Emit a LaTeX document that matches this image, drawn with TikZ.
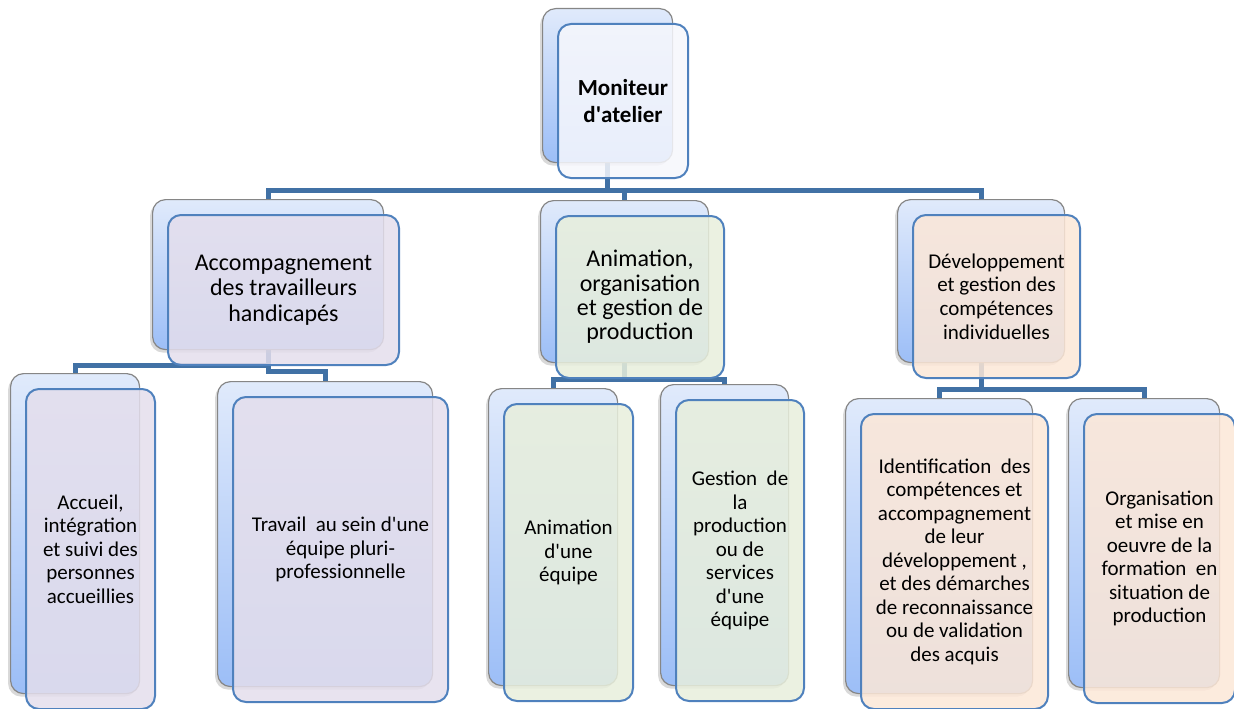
\documentclass[tikz,border=0pt]{standalone}
\usepackage{fontspec}
\setmainfont{Carlito}
\usetikzlibrary{shadows}
\pgfdeclarelayer{bg}
\pgfsetlayers{bg,main}
\definecolor{connc}{RGB}{65,113,165}
\definecolor{frontline}{RGB}{79,129,189}
\definecolor{backline}{RGB}{134,134,134}
\definecolor{backtop}{RGB}{224,234,251}
\definecolor{backbot}{RGB}{156,190,247}
\definecolor{rootfill}{RGB}{246,247,252}
\definecolor{afill}{RGB}{228,222,236}
\definecolor{bfill}{RGB}{232,239,220}
\definecolor{cfill}{RGB}{252,231,215}
\newcommand\qs{\textquotesingle}
\tikzset{
  backbox/.style={rectangle, rounded corners=13pt, draw=backline, line width=1.2pt,
    top color=backtop, bottom color=backbot, anchor=north west, inner sep=0pt,
    drop shadow={shadow xshift=-2.5pt, shadow yshift=-3pt, opacity=0.3}},
  frontbox/.style={rectangle, rounded corners=13pt, draw=frontline, line width=2pt,
    fill opacity=0.85, text opacity=1, draw opacity=1, anchor=north west,
    align=center, inner sep=0pt},
  connector/.style={draw=connc, line width=5pt, line join=miter},
  rootfont/.style={font=\bfseries\fontsize{23}{27}\selectfont},
  midfont/.style={font=\fontsize{24}{25.5}\selectfont},
  leaffont/.style={font=\fontsize{21}{23.5}\selectfont},
}
% name, x, y (front top-left), width, height, fill, font style, text
\newcommand\boxpair[8]{%
  \node[backbox, minimum width=#4pt, minimum height=#5pt] (#1b) at (#2-15,#3-15) {};
  \node[frontbox, fill=#6, minimum width=#4pt, minimum height=#5pt, #7] (#1) at (#2,#3) {#8};
}
\begin{document}
\begin{tikzpicture}[x=1pt, y=-1pt]
\useasboundingbox (0,0) rectangle (1234,709);
% level 1
\boxpair{root}{557}{23}{130}{154}{rootfill}{rootfont}{Moniteur\\d\qs atelier}
% level 2
\boxpair{A}{167}{214}{231}{150}{afill}{midfont}{Accompagnement\\des travailleurs\\handicapés}
\boxpair{B}{555}{215}{168}{162}{bfill}{font=\fontsize{24}{24.3}\selectfont}{Animation,\\organisation\\et gestion de\\production}
\boxpair{C}{912}{214}{167}{163}{cfill}{font=\fontsize{21}{23.7}\selectfont}{Développement\\et gestion des\\compétences\\individuelles}
% level 3
\boxpair{A1}{25}{388}{129}{320}{afill}{leaffont}{Accueil,\\intégration\\et suivi des\\personnes\\accueillies}
\boxpair{A2}{232}{396}{215}{305}{afill}{leaffont}{Travail\ \ au sein d\qs une\\équipe pluri-\\professionnelle}
\boxpair{B1}{503}{403}{129}{297}{bfill}{leaffont}{Animation\\d\qs une\\équipe}
\boxpair{B2}{675}{399}{128}{301}{bfill}{leaffont}{Gestion\ \ de\\la\\production\\ou de\\services\\d\qs une\\équipe}
\boxpair{C1}{860}{413}{187}{295}{cfill}{leaffont}{Identification\ \ des\\compétences et\\accompagnement\\de leur\\développement ,\\et des démarches\\de reconnaissance\\ou de validation\\des acquis}
\boxpair{C2}{1083}{413}{151}{289}{cfill}{leaffont}{Organisation\\et mise en\\oeuvre de la\\formation\ \ en\\situation de\\production}
% connectors
\begin{pgfonlayer}{bg}
\draw[connector] (rootb.south) -- ++(0,27) -| (Ab.north);
\draw[connector] (rootb.south) -- ++(0,27) -| (Bb.north);
\draw[connector] (rootb.south) -- ++(0,27) -| (Cb.north);
\draw[connector] (Ab.south) -- ++(0,15) -| (A1b.north);
\draw[connector] (Ab.south) -- ++(0,21) -| (A2b.north);
\draw[connector] (Bb.south) -- ++(0,16) -| (B1b.north);
\draw[connector] (Bb.south) -- ++(0,16) -| (B2b.north);
\draw[connector] (Cb.south) -- ++(0,26) -| (C1b.north);
\draw[connector] (Cb.south) -- ++(0,26) -| (C2b.north);
\end{pgfonlayer}
\end{tikzpicture}
\end{document}
